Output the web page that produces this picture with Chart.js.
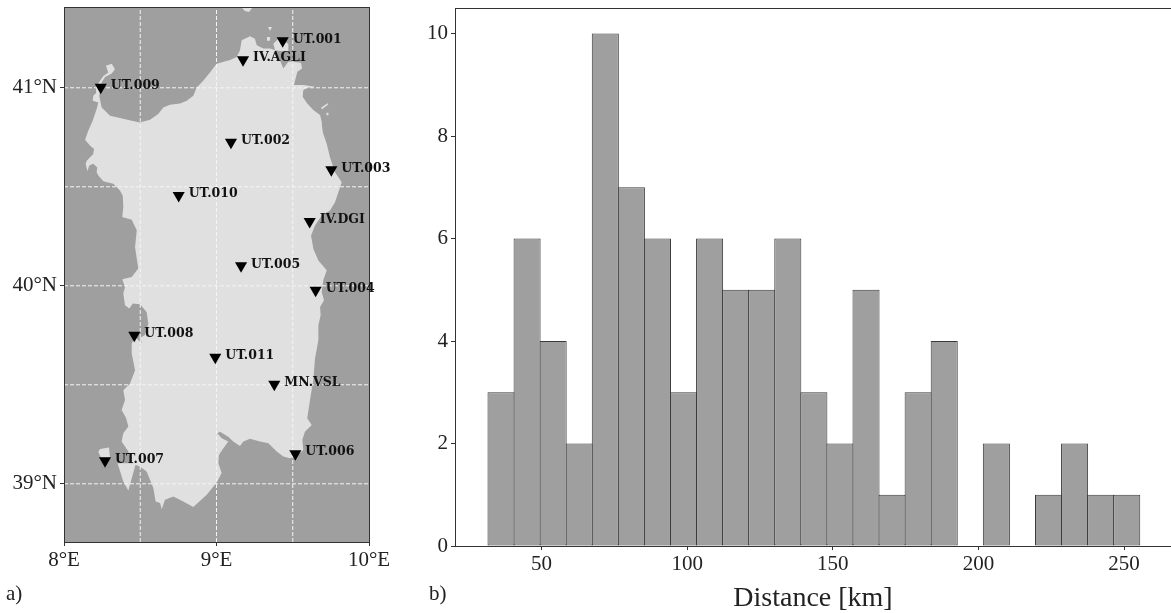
<!DOCTYPE html>
<html>
<head>
<meta charset="utf-8">
<title>Station map and distance histogram</title>
<script src="https://cdn.jsdelivr.net/npm/chart.js@4/dist/chart.umd.min.js"></script>
<style>
  html, body { margin: 0; padding: 0; background: #fff; overflow: hidden; }
  #page { position: relative; width: 1171px; height: 613px; overflow: hidden; }
  canvas { position: absolute; top: 0; }
  #mapChart { left: 0; }
  #histChart { left: 420px; }
  .panel { position: absolute; font: 21px "Liberation Serif", serif; color: #222; }
</style>
</head>
<body>
<div id="page">
  <canvas id="mapChart" width="420" height="613"></canvas>
  <canvas id="histChart" width="751" height="615"></canvas>
  <div class="panel" style="left:6px;top:581px">a)</div>
  <div class="panel" style="left:429px;top:581px">b)</div>
</div>
<script>
// Map extent and graticule, degrees
const lonMin = 8, lonMax = 10, latMin = 38.706, latMax = 41.408;
const gridLons = [8.5, 9, 9.5];
const gridLats = [39, 39.5, 40, 40.5, 41];

// Stations
const stationNames = ["UT.001", "IV.AGLI", "UT.009", "UT.002", "UT.003", "UT.010", "IV.DGI", "UT.005", "UT.004", "UT.008", "UT.011", "MN.VSL", "UT.006", "UT.007"];
const stationLon = [9.434, 9.174, 8.241, 9.095, 9.753, 8.752, 9.611, 9.161, 9.650, 8.461, 8.992, 9.379, 9.517, 8.269];
const stationLat = [41.237, 41.142, 41.003, 40.725, 40.586, 40.456, 40.325, 40.101, 39.978, 39.750, 39.639, 39.503, 39.152, 39.116];

// Sardinia coastline, clockwise from the north-west
const coastLon = [8.367, 8.323, 8.258, 8.225, 8.214, 8.218, 8.192, 8.166, 8.153, 8.142, 8.149, 8.166, 8.192, 8.197, 8.170, 8.138, 8.159, 8.188, 8.203, 8.214,
  8.225, 8.188, 8.192, 8.214, 8.210, 8.236, 8.258, 8.290, 8.275, 8.313, 8.334, 8.313, 8.269, 8.247, 8.231, 8.247, 8.302, 8.367, 8.444, 8.498,
  8.564, 8.618, 8.651, 8.695, 8.761, 8.805, 8.848, 8.870, 8.913, 8.957, 9.001, 9.089, 9.132, 9.154, 9.165, 9.220, 9.252, 9.264, 9.307, 9.351,
  9.384, 9.416, 9.438, 9.471, 9.500, 9.554, 9.561, 9.530, 9.508, 9.569, 9.646, 9.595, 9.569, 9.565, 9.595, 9.635, 9.679, 9.690, 9.692, 9.698,
  9.723, 9.744, 9.777, 9.821, 9.799, 9.777, 9.744, 9.690, 9.646, 9.620, 9.635, 9.668, 9.723, 9.700, 9.690, 9.705, 9.679, 9.683, 9.668, 9.668,
  9.646, 9.635, 9.613, 9.595, 9.624, 9.580, 9.563, 9.569, 9.528, 9.482, 9.438, 9.395, 9.340, 9.285, 9.220, 9.176, 9.154, 9.110, 9.077, 9.023,
  9.005, 9.034, 9.077, 9.045, 9.016, 9.012, 9.034, 9.001, 8.936, 8.848, 8.782, 8.717, 8.662, 8.641, 8.630, 8.601, 8.586, 8.564, 8.542, 8.498,
  8.466, 8.444, 8.422, 8.378, 8.389, 8.422, 8.407, 8.378, 8.400, 8.389, 8.433, 8.466, 8.444, 8.444, 8.466, 8.498, 8.564, 8.516, 8.494, 8.531,
  8.553, 8.542, 8.498, 8.451, 8.428, 8.400, 8.389, 8.400, 8.382, 8.444, 8.487, 8.466, 8.477, 8.444, 8.382, 8.389, 8.385];
const coastLat = [40.481, 40.515, 40.528, 40.557, 40.573, 40.598, 40.616, 40.607, 40.578, 40.616, 40.632, 40.646, 40.666, 40.691, 40.708, 40.737, 40.783, 40.834, 40.868, 40.893,
  40.926, 40.935, 40.960, 40.976, 41.002, 41.035, 41.060, 41.077, 41.111, 41.122, 41.094, 41.072, 41.055, 41.027, 40.960, 40.901, 40.859, 40.847, 40.834, 40.825,
  40.839, 40.868, 40.901, 40.914, 40.921, 40.935, 40.960, 41.002, 41.035, 41.077, 41.122, 41.140, 41.156, 41.190, 41.240, 41.260, 41.248, 41.215, 41.198, 41.198,
  41.190, 41.140, 41.097, 41.131, 41.131, 41.126, 41.097, 41.081, 41.014, 41.014, 41.005, 41.000, 40.988, 40.955, 40.921, 40.888, 40.862, 40.829, 40.804, 40.773,
  40.716, 40.649, 40.573, 40.523, 40.473, 40.422, 40.380, 40.355, 40.305, 40.254, 40.187, 40.128, 40.078, 40.028, 39.969, 39.927, 39.893, 39.851, 39.801, 39.725,
  39.633, 39.524, 39.423, 39.331, 39.297, 39.263, 39.222, 39.171, 39.141, 39.129, 39.138, 39.163, 39.205, 39.213, 39.227, 39.213, 39.191, 39.213, 39.238, 39.263,
  39.255, 39.230, 39.213, 39.180, 39.146, 39.104, 39.054, 39.006, 38.945, 38.883, 38.911, 38.936, 38.919, 38.872, 38.903, 38.911, 38.978, 39.020, 39.062, 39.087,
  39.096, 39.112, 39.163, 39.213, 39.255, 39.289, 39.332, 39.373, 39.423, 39.473, 39.507, 39.574, 39.658, 39.709, 39.742, 39.717, 39.695, 39.709, 39.734, 39.751,
  39.810, 39.868, 39.907, 39.910, 39.885, 39.902, 39.961, 39.994, 40.033, 40.044, 40.087, 40.195, 40.280, 40.333, 40.347, 40.397, 40.456];

// Smaller islands
const sanPietroLon = [8.225, 8.236, 8.295, 8.302, 8.243];
const sanPietroLat = [39.161, 39.176, 39.183, 39.131, 39.131];
const antiocoLon = [8.351, 8.472, 8.454, 8.422, 8.389];
const antiocoLat = [39.104, 39.104, 39.054, 38.966, 39.012];
const maddalenaLon = [9.373, 9.405, 9.471, 9.471, 9.384];
const maddalenaLat = [41.223, 41.248, 41.223, 41.181, 41.190];
const corsicaLon = [9.161, 9.239, 9.213, 9.187];
const corsicaLat = [41.408, 41.408, 41.383, 41.388];
const speckLon = [9.338, 9.364, 9.351];
const speckLat = [41.307, 41.307, 41.287];
const speck2Lon = [9.331, 9.351, 9.351, 9.331];
const speck2Lat = [41.257, 41.257, 41.237, 41.237];
const slashLon = [9.685, 9.728, 9.734, 9.692];
const slashLat = [40.899, 40.922, 40.917, 40.892];
const dotLon = [9.721, 9.734, 9.734, 9.721];
const dotLat = [40.874, 40.874, 40.861, 40.861];

// Histogram: bin centres in km and counts
const binCentres = [36.1, 45.05, 54, 62.95, 71.9, 80.85, 89.8, 98.75, 107.7, 116.65, 125.6, 134.55, 143.5, 152.45, 161.4, 170.35, 179.3, 188.25, 197.2, 206.15, 215.1, 224.05, 233, 241.95, 250.9];
const binCounts = [3, 6, 4, 2, 10, 7, 6, 3, 6, 5, 5, 6, 3, 2, 5, 1, 3, 4, 0, 2, 0, 1, 2, 1, 1];
const distanceTitle = "Distance [km]";

const SERIF = '"Liberation Serif", serif';
const INK = "#222";
const SEA = "#9f9f9f";
const LAND = "#e0e0e0";
const FRAME = "#333";

function pairUp(xs, ys) {
    return xs.map((x, i) => ({ x: x, y: ys[i] }));
}

function landDataset(lons, lats) {
    return { type: "line", isLand: true, data: pairUp(lons, lats), borderWidth: 0, pointRadius: 0, tension: 0, fill: false, order: 3 };
}

function gridDataset(points) {
    return { type: "line", data: points, borderColor: "#f4f4f4", borderWidth: 1, borderDash: [4, 2], pointRadius: 0, tension: 0, fill: false, order: 2 };
}

// Stop Chart.js reserving room for half a tick label past the plot edges
function fixBox(scale, size) {
    if (scale.isHorizontal()) scale.height = size;
    else scale.width = size;
    scale.paddingTop = 0;
    scale.paddingBottom = 0;
    scale.paddingLeft = 0;
    scale.paddingRight = 0;
}

// Closed land polygons: fill the path the line element built from the scales
const landFill = {
    id: "landFill",
    beforeDatasetDraw(chart, args) {
        const ds = chart.data.datasets[args.index];
        if (!ds.isLand) return;
        const ctx = chart.ctx;
        const area = chart.chartArea;
        ctx.save();
        ctx.beginPath();
        ctx.rect(area.left, area.top, area.width, area.height);
        ctx.clip();
        ctx.beginPath();
        args.meta.dataset.path(ctx);
        ctx.closePath();
        ctx.fillStyle = LAND;
        ctx.fill();
        ctx.restore();
    },
};

const seaBackground = {
    id: "seaBackground",
    beforeDatasetsDraw(chart) {
        const a = chart.chartArea;
        chart.ctx.fillStyle = SEA;
        chart.ctx.fillRect(a.left, a.top, a.width, a.height);
    },
};

const frame = {
    id: "frame",
    afterDatasetsDraw(chart) {
        const a = chart.chartArea;
        const ctx = chart.ctx;
        ctx.save();
        ctx.strokeStyle = FRAME;
        ctx.lineWidth = 1;
        ctx.strokeRect(Math.round(a.left) + 0.5, Math.round(a.top) + 0.5, Math.round(a.width), Math.round(a.height));
        ctx.restore();
    },
};

const stationLabels = {
    id: "stationLabels",
    afterDatasetsDraw(chart) {
        const ctx = chart.ctx;
        ctx.save();
        ctx.font = 'bold 12.5px "DejaVu Serif", serif';
        ctx.fillStyle = "#111";
        ctx.textBaseline = "middle";
        stationNames.forEach((name, i) => {
            const px = chart.scales.x.getPixelForValue(stationLon[i]);
            const py = chart.scales.y.getPixelForValue(stationLat[i]);
            ctx.fillText(name, px + 10, py - 1.5);
        });
        ctx.restore();
    },
};

function renderMap() {
    const datasets = [
        { type: "line", data: pairUp(stationLon, stationLat), showLine: false, pointStyle: "triangle", rotation: 180, pointRadius: 7, pointBackgroundColor: "#000", pointBorderColor: "#000", pointBorderWidth: 0, order: 1 },
    ];
    gridLons.forEach((lon) => datasets.push(gridDataset([{ x: lon, y: latMin }, { x: lon, y: latMax }])));
    gridLats.forEach((lat) => datasets.push(gridDataset([{ x: lonMin, y: lat }, { x: lonMax, y: lat }])));
    datasets.push(landDataset(coastLon, coastLat));
    datasets.push(landDataset(sanPietroLon, sanPietroLat));
    datasets.push(landDataset(antiocoLon, antiocoLat));
    datasets.push(landDataset(maddalenaLon, maddalenaLat));
    datasets.push(landDataset(corsicaLon, corsicaLat));
    datasets.push(landDataset(speckLon, speckLat));
    datasets.push(landDataset(speck2Lon, speck2Lat));
    datasets.push(landDataset(slashLon, slashLat));
    datasets.push(landDataset(dotLon, dotLat));

    const isWhole = (v) => Number.isInteger(v);
    new Chart(document.getElementById("mapChart"), {
        type: "line",
        data: { datasets },
        plugins: [seaBackground, landFill, frame, stationLabels],
        options: {
            responsive: false,
            animation: false,
            devicePixelRatio: 1,
            layout: { padding: { top: 6, right: 51, left: 0, bottom: 0 } },
            plugins: { legend: { display: false }, tooltip: { enabled: false } },
            scales: {
                x: {
                    type: "linear",
                    min: lonMin,
                    max: lonMax,
                    afterFit: (s) => fixBox(s, 71),
                    border: { color: FRAME },
                    grid: { drawOnChartArea: false, tickLength: 4, tickColor: (c) => (isWhole(c.tick.value) ? FRAME : "rgba(0,0,0,0)") },
                    ticks: {
                        stepSize: 0.5,
                        includeBounds: false,
                        autoSkip: false,
                        maxRotation: 0,
                        padding: 2,
                        color: INK,
                        font: { family: SERIF, size: 21 },
                        callback: (v) => (isWhole(v) ? v + "°E" : ""),
                    },
                },
                y: {
                    type: "linear",
                    min: latMin,
                    max: latMax,
                    afterFit: (s) => fixBox(s, 64),
                    border: { color: FRAME },
                    grid: { drawOnChartArea: false, tickLength: 4, tickColor: (c) => (isWhole(c.tick.value) ? FRAME : "rgba(0,0,0,0)") },
                    ticks: {
                        stepSize: 0.5,
                        includeBounds: false,
                        autoSkip: false,
                        padding: 3,
                        color: INK,
                        font: { family: SERIF, size: 21 },
                        callback: (v) => (isWhole(v) ? v + "°N" : ""),
                    },
                },
            },
        },
    });
}

function renderHistogram() {
    new Chart(document.getElementById("histChart"), {
        type: "bar",
        data: {
            datasets: [{
                data: pairUp(binCentres, binCounts),
                backgroundColor: SEA,
                borderColor: "#3a3a3a",
                borderWidth: 1,
                borderSkipped: false,
                // just over 1 so neighbouring edges share one pixel
                barPercentage: 1.038,
                categoryPercentage: 1,
            }],
        },
        plugins: [frame],
        options: {
            responsive: false,
            animation: false,
            devicePixelRatio: 1,
            layout: { padding: { top: 8, right: 0, left: 0, bottom: 0 } },
            plugins: { legend: { display: false }, tooltip: { enabled: false } },
            scales: {
                x: {
                    type: "linear",
                    min: 20.3,
                    max: 266.1,
                    offset: false,
                    afterFit: (s) => fixBox(s, 69),
                    border: { color: FRAME },
                    grid: { offset: false, drawOnChartArea: false, tickLength: 4, tickColor: FRAME },
                    ticks: { stepSize: 50, includeBounds: false, maxRotation: 0, padding: 2, color: INK, font: { family: SERIF, size: 21 } },
                    title: { display: true, text: distanceTitle, color: INK, font: { family: SERIF, size: 28 }, padding: { top: 0, bottom: 0 } },
                },
                y: {
                    min: 0,
                    max: 10.5,
                    afterFit: (s) => fixBox(s, 35),
                    border: { color: FRAME },
                    grid: { drawOnChartArea: false, tickLength: 4, tickColor: FRAME },
                    ticks: { stepSize: 2, includeBounds: false, padding: 3, color: INK, font: { family: SERIF, size: 21 } },
                },
            },
        },
    });
}

renderMap();
renderHistogram();
</script>
</body>
</html>
